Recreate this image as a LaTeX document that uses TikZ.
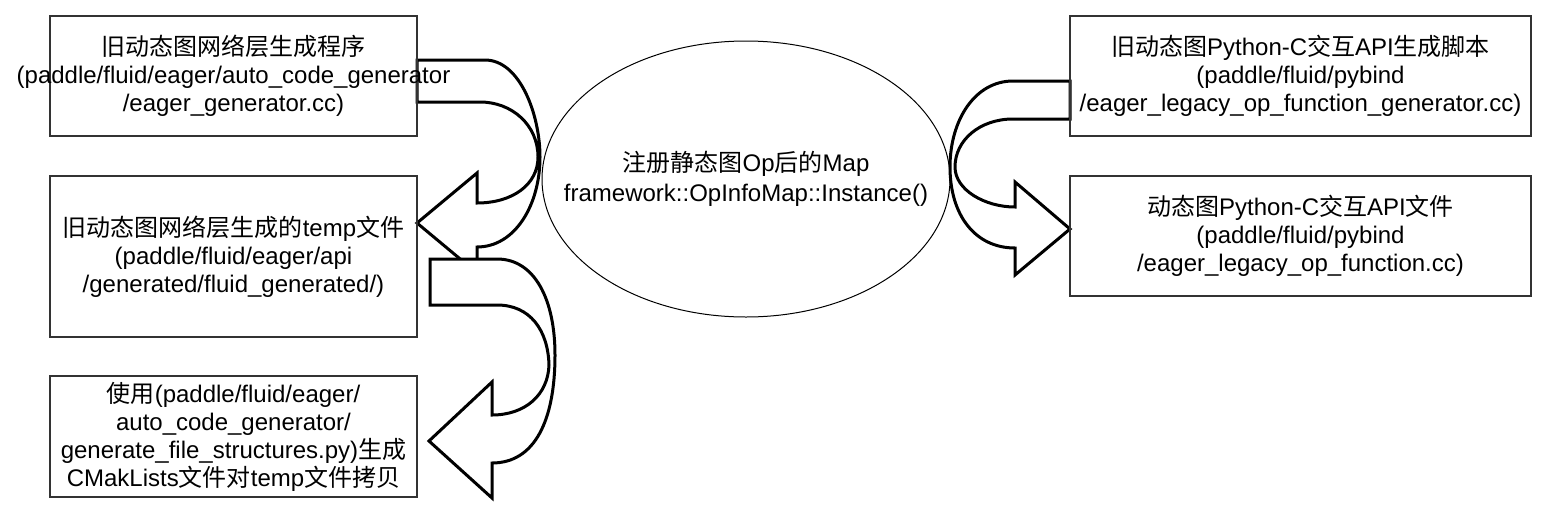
\documentclass[tikz,border=0pt]{standalone}
\usepackage{fontspec}
\setmainfont{Liberation Sans}
\newfontfamily\cjk{Noto Sans CJK SC}
\usepackage{tikz}
\usetikzlibrary{
  positioning,
  shapes.geometric,
  backgrounds
}
\newcommand{\zh}[1]{{\cjk #1}}

\begin{document}
\begin{tikzpicture}[
  x=1pt, y=-1pt,
  srcbox/.style={draw=black!80, line width=1.3pt,
                 minimum width=367pt, minimum height=120pt,
                 inner sep=2pt, align=center,
                 font=\fontsize{24}{28}\selectfont},
  mapnode/.style={ellipse, draw, line width=1pt,
                  minimum width=408pt, minimum height=276pt,
                  inner xsep=-40pt, inner ysep=0pt, align=center,
                  font=\fontsize{24}{30}\selectfont},
  bigarrow/.style={draw, fill=white, line width=3pt, line join=miter},
]
  \useasboundingbox (0,0) rectangle (1547,515);

  % Left column
  \node[srcbox] (gen) at (233.5, 76)
    {\zh{旧动态图网络层生成程序}\\
     \makebox[300pt]{(paddle/fluid/eager/auto\_code\_generator}\\
     /eager\_generator.cc)};
  \node[srcbox, minimum height=161pt] (tempf) at (233.5, 256.5)
    {\zh{旧动态图网络层生成的}temp\zh{文件}\\
     (paddle/fluid/eager/api\\
     /generated/fluid\_generated/)};
  \node[srcbox, minimum height=121pt] (cpy) at (233.5, 436.5)
    {\zh{使用}(paddle/fluid/eager/\\
     auto\_code\_generator/\\
     generate\_file\_structures.py)\zh{生成}\\
     CMakLists\zh{文件对}temp\zh{文件拷贝}};

  % Middle
  \node[mapnode] (opmap) at (746, 179)
    {\zh{注册静态图}Op\zh{后的}Map\\
     framework::OpInfoMap::Instance()};

  % Right column
  \node[srcbox, minimum width=461pt] (pygen) at (1300.5, 76)
    {\zh{旧动态图}Python-C\zh{交互}API\zh{生成脚本}\\
     (paddle/fluid/pybind\\
     /eager\_legacy\_op\_function\_generator.cc)};
  \node[srcbox, minimum width=461pt] (pyfile) at (1300.5, 236)
    {\zh{动态图}Python-C\zh{交互}API\zh{文件}\\
     (paddle/fluid/pybind\\
     /eager\_legacy\_op\_function.cc)};

  \begin{scope}[on background layer]
    % gen -> tempf
    \draw[bigarrow] (417,60) -- (485,60)
      .. controls (520,60) and (540,115) .. (540,157)
      .. controls (540,205) and (515,247) .. (477,247)
      -- (477,273) -- (417,223) -- (477,173) -- (477,203)
      .. controls (512,203) and (538,185) .. (538,157)
      .. controls (538,125) and (512,102) .. (480,102)
      -- (417,102) -- cycle;
    % tempf -> cpy
    \draw[bigarrow] (430,259) -- (497,259)
      .. controls (535,259) and (555,300) .. (555,355)
      .. controls (555,420) and (535,463) .. (492,463)
      -- (492,498) -- (429,441) -- (492,382) -- (492,415)
      .. controls (525,415) and (548,395) .. (549,365)
      .. controls (548,330) and (530,305) .. (497,305)
      -- (430,305) -- cycle;
    % pygen -> pyfile
    \draw[bigarrow] (1070,81) -- (1013,81)
      .. controls (975,81) and (950,120) .. (950,167)
      .. controls (950,215) and (975,248) .. (1015,248)
      -- (1015,275) -- (1070,229) -- (1015,182) -- (1015,207)
      .. controls (985,207) and (955,190) .. (955,167)
      .. controls (955,140) and (980,119) .. (1013,119)
      -- (1070,119) -- cycle;
  \end{scope}

\end{tikzpicture}
\end{document}
